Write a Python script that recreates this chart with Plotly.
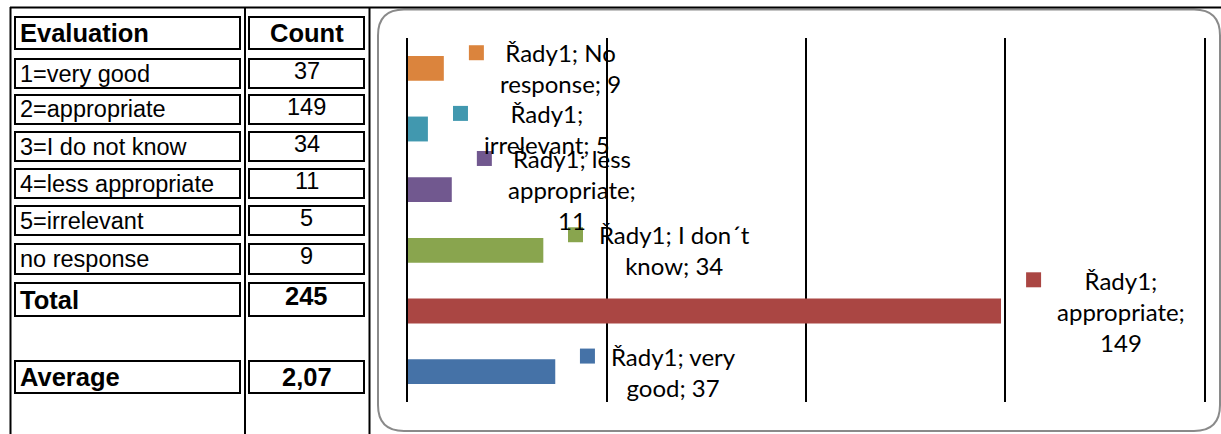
import textwrap
import plotly.graph_objects as go

# ---------------- table data ----------------
table_header = ["Evaluation", "Count"]
evaluations = ["1=very good", "2=appropriate", "3=I do not know",
               "4=less appropriate", "5=irrelevant", "no response"]
counts = [37, 149, 34, 11, 5, 9]
total_label = "Total"
total_value = 245
average_label = "Average"
average_value = "2,07"

# ---------------- chart data ----------------
series_name = "Řady1"
chart_categories = ["very good", "appropriate", "I don´t know",
                    "less appropriate", "irrelevant", "No response"]
chart_values = [37, 149, 34, 11, 5, 9]
bar_colors = ["#4572A7", "#AA4643", "#89A54E", "#71588F", "#4198AF", "#DB843D"]
x_ticks = [0, 50, 100, 150, 200]

# label layout (wrap width in characters, legend-key left edge in data units)
label_wrap = [11, 12, 14, 12, 13, 11]
label_key_x = [43.2, 155.3, 40.2, 17.3, 11.3, 15.3]

# ---------------- geometry ----------------
W, H = 1221, 434
L, R, T, B = 408, 1204, 38, 402


def px(x):
    return (x - L) / (R - L)


def py(y):
    return (B - y) / (B - T)


shapes = []
annotations = []


def hline(x0, x1, y, color="black", w=2):
    shapes.append(dict(type="line", xref="paper", yref="paper",
                       x0=px(x0), x1=px(x1), y0=py(y), y1=py(y),
                       line=dict(color=color, width=w)))


def vline(x, y0, y1, color="black", w=2):
    shapes.append(dict(type="line", xref="paper", yref="paper",
                       x0=px(x), x1=px(x), y0=py(y0), y1=py(y1),
                       line=dict(color=color, width=w)))


def box(x0, y0, x1, y1):
    shapes.append(dict(type="rect", xref="paper", yref="paper",
                       x0=px(x0), x1=px(x1), y0=py(y0), y1=py(y1),
                       line=dict(color="black", width=2)))


# chart rounded border
cx0, cy0, cx1, cy1, rr = 378, 9.5, 1220, 431, 26
path = (f"M {px(cx0 + rr)},{py(cy0)} L {px(cx1 - rr)},{py(cy0)} "
        f"Q {px(cx1)},{py(cy0)} {px(cx1)},{py(cy0 + rr)} "
        f"L {px(cx1)},{py(cy1 - rr)} Q {px(cx1)},{py(cy1)} {px(cx1 - rr)},{py(cy1)} "
        f"L {px(cx0 + rr)},{py(cy1)} Q {px(cx0)},{py(cy1)} {px(cx0)},{py(cy1 - rr)} "
        f"L {px(cx0)},{py(cy0 + rr)} Q {px(cx0)},{py(cy0)} {px(cx0 + rr)},{py(cy0)} Z")
shapes.append(dict(type="path", xref="paper", yref="paper", path=path,
                   line=dict(color="#8a8a8a", width=2), layer="below"))

# document table lines
hline(10, 1221, 7.5)
vline(10.5, 7, 434)
vline(245, 7, 434)
vline(369.5, 7, 434)

# table cells
row_boxes = [(17, 49), (59, 88), (95, 124), (132, 161), (169, 198),
             (206, 235), (244, 274), (283, 316), (361, 393)]
LX0, LX1, CX0, CX1 = 15, 240, 249, 364
for (y0, y1) in row_boxes:
    box(LX0, y0, LX1, y1)
    box(CX0, y0, CX1, y1)

TFONT = "Liberation Sans, Arial, sans-serif"
FS = 23.5
FSB = 25.5

bold_rows = {0, len(row_boxes) - 2, len(row_boxes) - 1}
left_texts = [table_header[0]] + evaluations + [total_label, average_label]
right_texts = [table_header[1]] + [str(c) for c in counts] + \
    [str(total_value), average_value]
right_offsets = [-0.5] + [-3] * len(counts) + [-3.5, 0]

for i, (y0, y1) in enumerate(row_boxes):
    yc = (y0 + y1) / 2
    b = i in bold_rows
    lt = f"<b>{left_texts[i]}</b>" if b else left_texts[i]
    rt = f"<b>{right_texts[i]}</b>" if b else right_texts[i]
    annotations.append(dict(xref="paper", yref="paper", x=px(LX0 + 3), y=py(yc),
                            xanchor="left", yanchor="middle", showarrow=False,
                            text=lt,
                            font=dict(family=TFONT, size=FSB if b else FS, color="black")))
    annotations.append(dict(xref="paper", yref="paper", x=px((CX0 + CX1) / 2),
                            y=py(yc + right_offsets[i]),
                            xanchor="center", yanchor="middle", showarrow=False,
                            text=rt,
                            font=dict(family=TFONT, size=FSB if b else FS, color="black")))

# ---------------- bar chart ----------------
fig = go.Figure()
fig.add_trace(go.Bar(x=chart_values, y=chart_categories, orientation="h",
                     marker=dict(color=bar_colors, line=dict(width=0)),
                     width=0.41, hoverinfo="x+y"))

LFS = 24
LH = 1.3 * LFS
for i, cat in enumerate(chart_categories):
    full = f"{series_name}; {cat}; {chart_values[i]}"
    lines = textwrap.wrap(full, width=label_wrap[i])
    n = len(lines)
    annotations.append(dict(xref="x", yref="y", x=label_key_x[i], y=cat,
                            xanchor="left", yanchor="middle", xshift=29,
                            align="center", showarrow=False,
                            text="<br>".join(lines),
                            font=dict(family="Lato, sans-serif", size=LFS, color="black")))
    off = (n - 1) / 2 * LH
    shapes.append(dict(type="rect", xref="x", yref="y",
                       xsizemode="pixel", ysizemode="pixel",
                       xanchor=label_key_x[i], yanchor=cat,
                       x0=0, x1=15, y0=off - 7.5, y1=off + 7.5,
                       fillcolor=bar_colors[i], line=dict(width=0)))

fig.update_layout(
    width=W, height=H,
    margin=dict(l=L, r=W - R, t=T, b=H - B, pad=0),
    paper_bgcolor="white", plot_bgcolor="rgba(0,0,0,0)",
    showlegend=False,
    shapes=shapes, annotations=annotations,
    xaxis=dict(range=[x_ticks[0], x_ticks[-1]], tickvals=x_ticks,
               showticklabels=False, ticks="", showgrid=True,
               gridcolor="black", gridwidth=2, zeroline=False,
               showline=False, fixedrange=True),
    yaxis=dict(type="category", categoryorder="array", categoryarray=chart_categories,
               range=[-0.5, len(chart_categories) - 0.5], showticklabels=False,
               ticks="", showgrid=False, zeroline=False,
               showline=True, mirror=True, linecolor="black", linewidth=2,
               fixedrange=True),
)

fig.write_html("out.html", config={"displayModeBar": False})
